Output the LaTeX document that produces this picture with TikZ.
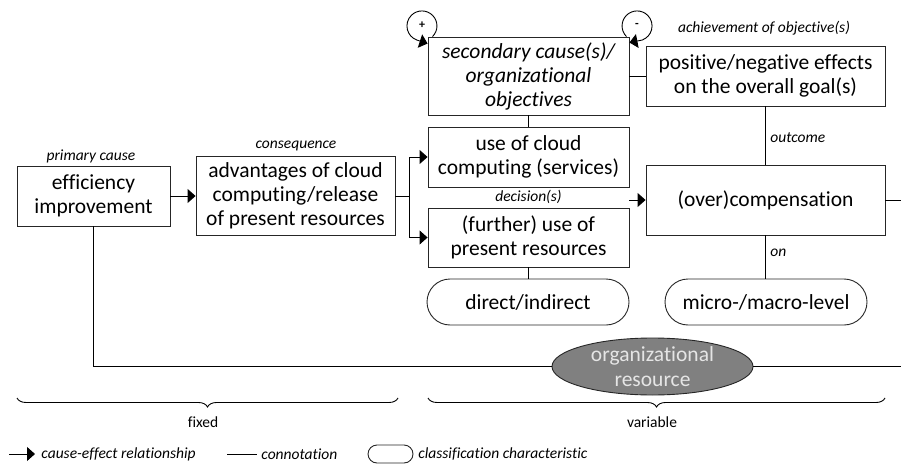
\documentclass[tikz,border=0pt]{standalone}
\usepackage{fontspec}
\setmainfont{Carlito}[RawFeature={-liga;-clig;-dlig;-calt}]
\usetikzlibrary{arrows.meta,shapes.geometric,decorations.pathreplacing}
\begin{document}
\begin{tikzpicture}[x=1pt,y=-1pt, line width=0.9pt,
  box/.style={draw=black!85, line width=0.9pt, align=center, inner sep=0pt, font=\fontsize{21.5}{24}\selectfont},
  cls/.style={box, rounded corners=23pt, minimum width=202pt, minimum height=46pt},
  lbl/.style={inner sep=0pt, font=\fontsize{15.5}{18}\selectfont\itshape},
  brlbl/.style={inner sep=0pt, font=\fontsize{15.5}{18}\selectfont},
  arr/.style={-{Triangle[length=8pt,width=14pt]}},
  brc/.style={decorate, decoration={brace, mirror, amplitude=9pt}, line width=0.9pt}
]
\useasboundingbox (0,0) rectangle (901,465);

% boxes
\node[box, minimum width=153pt, minimum height=60pt] (eff) at (93.5,196) {efficiency\\improvement};
\node[box, minimum width=199pt, minimum height=79pt] (adv) at (295.5,196) {advantages of cloud\\computing/release\\of present resources};
\node[box, minimum width=201pt, minimum height=78pt, font=\fontsize{21.5}{24}\selectfont\itshape] (sec) at (528.5,76) {secondary cause(s)/\\organizational\\objectives};
\node[box, minimum width=201pt, minimum height=60pt] (cloud) at (528.5,157) {use of cloud\\computing (services)};
\node[box, minimum width=201pt, minimum height=59pt] (further) at (528.5,237.5) {(further) use of\\present resources};
\node[box, minimum width=239pt, minimum height=60pt] (pos) at (765.5,76) {positive/negative effects\\on the overall goal(s)};
\node[box, minimum width=239pt, minimum height=70pt] (over) at (765.5,200) {(over)compensation};
\node[cls] (direct) at (528,302) {direct/indirect};
\node[cls] (micro) at (766,302) {micro-/macro-level};
\node[ellipse, draw=black!85, line width=0.9pt, fill=black!50, text=white!90!black, align=center, inner sep=0pt,
      minimum width=201pt, minimum height=57pt, font=\fontsize{21.5}{25}\selectfont] (res) at (652.5,366.5) {organizational\\resource};

% labels
\node[lbl] (lprim) at (91,156) {primary cause};
\node[lbl] (lcons) at (296,146) {consequence};
\node[lbl] (lach) at (764,28) {achievement of objective(s)};
\node[lbl, anchor=west] (lout) at (770,138) {outcome};
\node[lbl] (ldec) at (528.5,197) {decision(s)};
\node[lbl, anchor=west] (lon) at (770,253) {on};

% connectors
\draw[arr] (eff.east) -- (eff.east -| adv.west);
\coordinate (fk) at (409,196);
\draw (adv.east) -- (fk);
\draw[arr] (fk) |- (cloud.west);
\draw[arr] (fk) |- (further.west);
\draw (sec.south) -- (cloud.north);
\draw (further.south) -- (further.south |- direct.north);
\draw (sec.east) -- (pos.west);
\draw (pos.south) -- (pos.south |- over.north);
\draw (over.south) -- (over.south |- micro.north);
\coordinate (dec) at (629,200);
\draw[arr] (dec) -- (dec -| over.west);
\coordinate (rt) at (901,200);
\draw (over.east) -- (rt);
\draw (eff.south) |- (res.west);
\coordinate (rt2) at (901,366.5);
\draw (res.east) -- (rt2);

% feedback loops
\draw[arr] ([xshift=5pt]sec.north west) arc[start angle=45, end angle=-250, radius=15] -- ([yshift=-7pt]sec.north west);
\draw[arr] ([xshift=-3pt]sec.north east) arc[start angle=135, end angle=430, radius=15] -- ([yshift=-6pt]sec.north east);
\node[inner sep=0pt, font=\fontsize{12}{12}\selectfont\bfseries] (plus) at (422,25) {+};
\node[inner sep=0pt, font=\fontsize{12}{12}\selectfont\bfseries] (minus) at (637,25) {-};

% braces
\coordinate (b1a) at (17,398);
\coordinate (b1b) at (398,398);
\draw[brc] (b1a) -- (b1b);
\node[brlbl] (fixed) at (203,422) {fixed};
\coordinate (b2a) at (428,398);
\coordinate (b2b) at (885,398);
\draw[brc] (b2a) -- (b2b);
\node[brlbl] (variable) at (652,422) {variable};

% legend
\coordinate (la) at (9,454);
\coordinate (lb) at (35,454);
\draw[arr] (la) -- (lb);
\node[lbl, anchor=west] (t1) at (41,454) {cause-effect relationship};
\coordinate (lc) at (227,454);
\coordinate (ld) at (257,454);
\draw (lc) -- (ld);
\node[lbl, anchor=west] (t2) at (261,454) {connotation};
\node[draw=black!85, line width=0.9pt, rounded corners=9pt, minimum width=45pt, minimum height=18pt, inner sep=0pt] (lr) at (390.5,454) {};
\node[lbl, anchor=west] (t3) at (418,454) {classification characteristic};
\end{tikzpicture}
\end{document}
